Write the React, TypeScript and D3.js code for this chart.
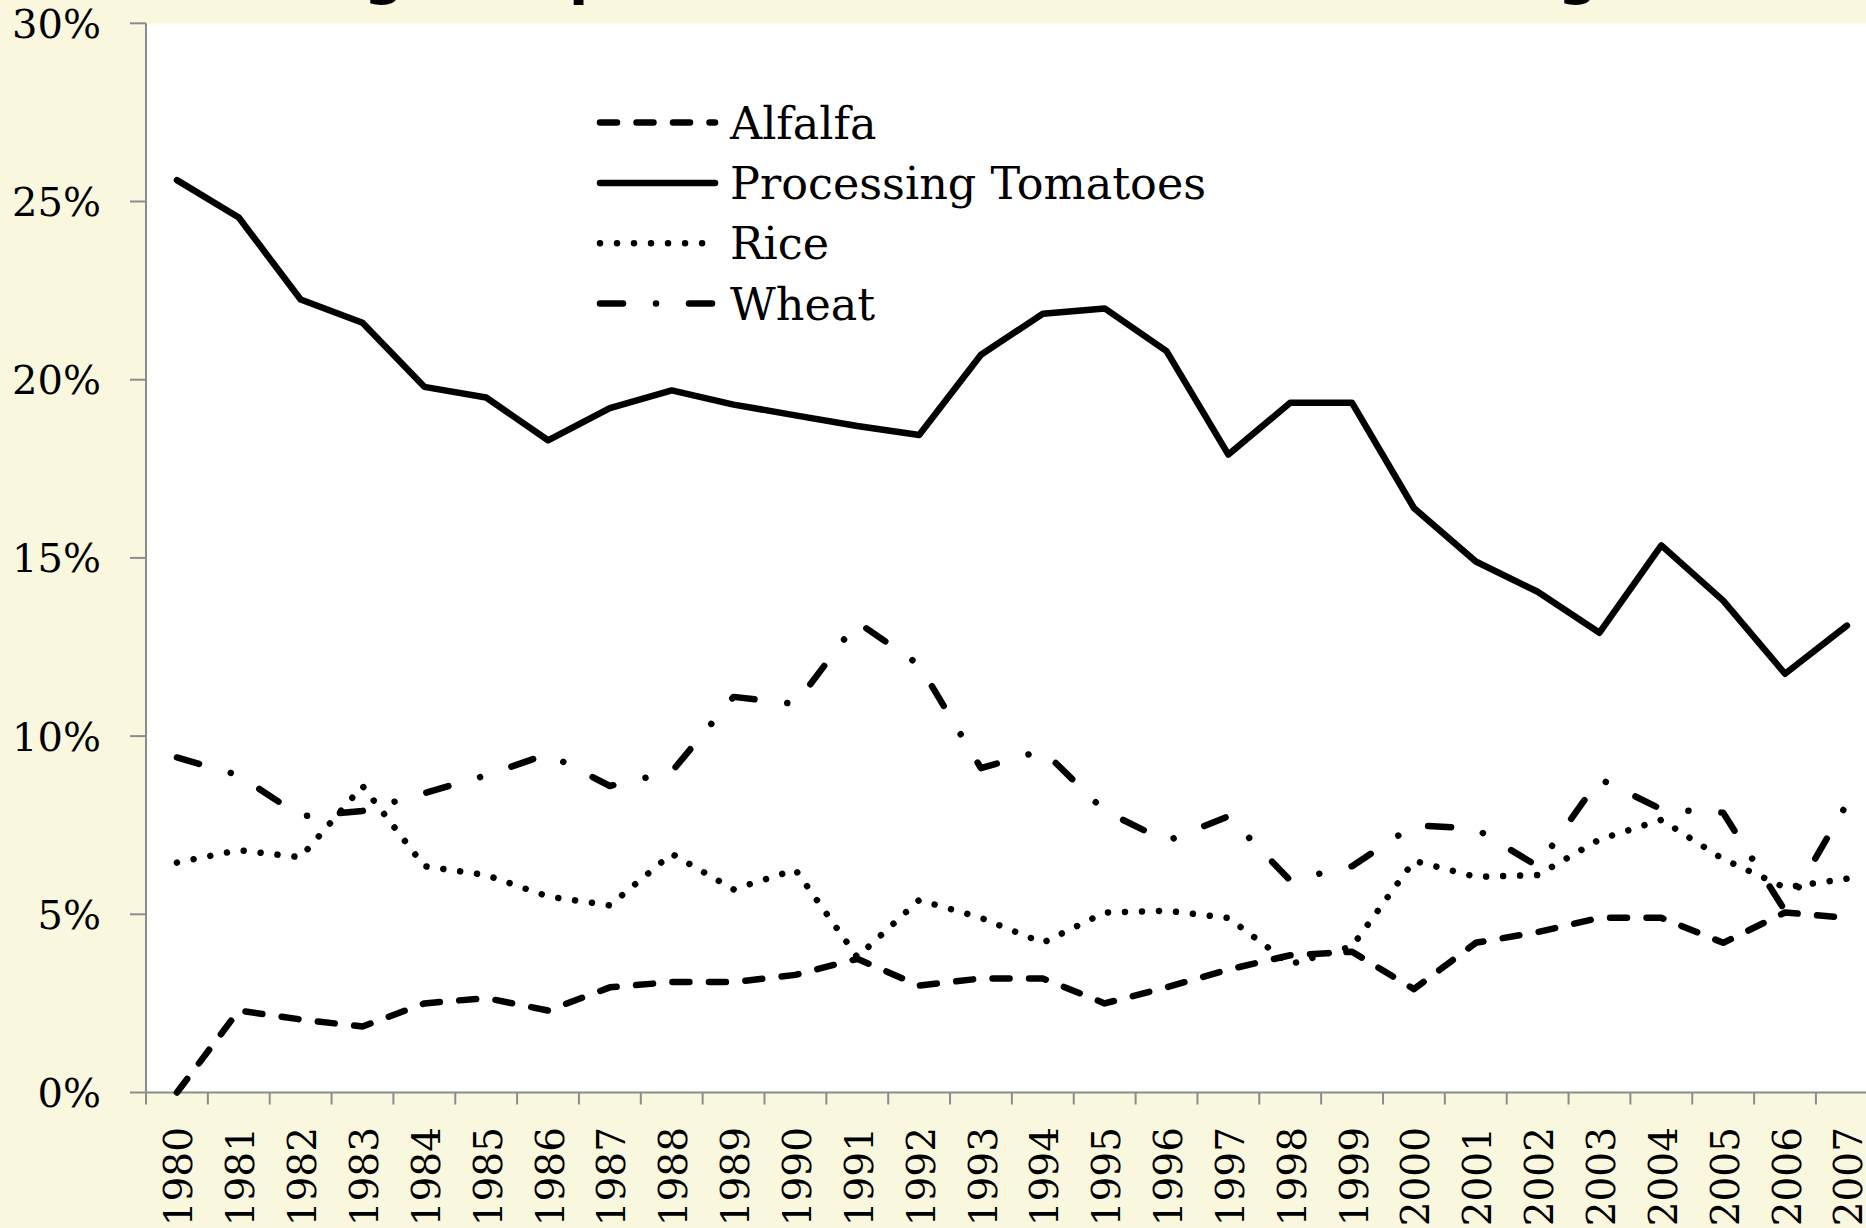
import React, { useEffect } from 'react';
import * as d3 from 'd3';

const years: number[] = [
  1980, 1981, 1982, 1983, 1984, 1985, 1986, 1987, 1988, 1989,
  1990, 1991, 1992, 1993, 1994, 1995, 1996, 1997, 1998, 1999,
  2000, 2001, 2002, 2003, 2004, 2005, 2006, 2007,
];

// values in percent
const alfalfa: number[] = [
  0.0, 2.3, 2.05, 1.85, 2.5, 2.65, 2.3, 2.95, 3.1, 3.1,
  3.3, 3.75, 3.0, 3.2, 3.2, 2.5, 2.95, 3.45, 3.85, 3.95,
  2.9, 4.2, 4.5, 4.9, 4.9, 4.2, 5.05, 4.9,
];
const tomatoes: number[] = [
  25.6, 24.55, 22.25, 21.6, 19.8, 19.5, 18.3, 19.2, 19.7, 19.3,
  19.0, 18.7, 18.45, 20.7, 21.85, 22.0, 20.8, 17.9, 19.35, 19.35,
  16.4, 14.9, 14.05, 12.9, 15.35, 13.8, 11.75, 13.1,
];
const rice: number[] = [
  6.45, 6.8, 6.6, 8.6, 6.35, 6.1, 5.5, 5.25, 6.7, 5.7,
  6.25, 3.8, 5.4, 4.9, 4.2, 5.05, 5.1, 4.9, 3.6, 4.1,
  6.5, 6.05, 6.1, 7.1, 7.65, 6.55, 5.75, 6.0,
];
const wheat: number[] = [
  9.4, 8.9, 7.75, 7.9, 8.4, 8.9, 9.5, 8.6, 9.0, 11.1,
  10.9, 13.2, 12.0, 9.1, 9.6, 7.9, 7.05, 7.75, 5.95, 6.35,
  7.5, 7.4, 6.35, 8.8, 7.95, 7.85, 5.1, 8.1,
];
const yTicks: number[] = [0, 5, 10, 15, 20, 25, 30];
const seriesNames: string[] = ['Alfalfa', 'Processing Tomatoes', 'Rice', 'Wheat'];
const seriesData: number[][] = [alfalfa, tomatoes, rice, wheat];
const dashes: string[] = ['17 19.5', 'none', '0.01 17', '23 33 0.01 33'];

const W = 1866;
const H = 1228;
const left = 146;
const top = 23.3;
const bottom = 1092.5;
const band = 61.85;
const BG = '#F9F7DE';
const AXIS = '#8c8c8c';
const SERIF = '"DejaVu Serif", "Liberation Serif", serif';

export default function App() {
  useEffect(() => {
    document.body.style.margin = '0';
  }, []);

  const x = d3
    .scaleBand<string>()
    .domain(years.map(String))
    .range([left, left + band * years.length])
    .padding(0);
  const y = d3.scaleLinear().domain([0, 30]).range([bottom, top]);
  const cx = (i: number) => (x(String(years[i])) as number) + x.bandwidth() / 2;

  const line = d3
    .line<number>()
    .x((_d, i) => cx(i))
    .y((d) => y(d));

  const boundaries = d3.range(years.length + 1).map((k) => left + k * x.bandwidth());

  const legendX1 = 600;
  const legendX2 = 715;
  const legendY0 = 122.6;
  const legendStep = 60.3;

  return (
    <svg
      width={W}
      height={H}
      viewBox={`0 0 ${W} ${H}`}
      style={{ position: 'absolute', left: 0, top: 0, display: 'block' }}
    >
      <rect x={0} y={0} width={W} height={H} fill={BG} />
      {/* visible bottoms of the cropped title glyphs */}
      <g fontFamily='"DejaVu Sans", sans-serif' fontWeight="bold" fontSize={56} fill="#000">
        <text x={384} y={-7} textAnchor="middle">g</text>
        <text x={569} y={-7}>p</text>
        <text x={1578} y={-7} textAnchor="middle">g</text>
      </g>
      <rect x={left} y={top} width={band * years.length} height={bottom - top} fill="#fff" />

      {/* y axis */}
      <line x1={left} x2={left} y1={top} y2={bottom} stroke={AXIS} strokeWidth={2} />
      {yTicks.map((t) => (
        <g key={t}>
          <line x1={130} x2={left} y1={y(t)} y2={y(t)} stroke={AXIS} strokeWidth={2} />
          <text
            x={101}
            y={y(t) + 14.5}
            textAnchor="end"
            fontFamily={SERIF}
            fontSize={40}
            fill="#000"
          >
            {`${t}%`}
          </text>
        </g>
      ))}

      {/* x axis */}
      <line x1={left} x2={left + band * years.length} y1={bottom} y2={bottom} stroke={AXIS} strokeWidth={2} />
      {boundaries.map((bx, k) => (
        <line key={k} x1={bx} x2={bx} y1={bottom} y2={bottom + 12} stroke={AXIS} strokeWidth={2} />
      ))}
      {years.map((yr, i) => (
        <text
          key={yr}
          transform={`translate(${cx(i) + 1.5},${1127}) rotate(-90)`}
          textAnchor="end"
          dy="0.36em"
          fontFamily={SERIF}
          fontSize={39}
          fill="#000"
        >
          {String(yr)}
        </text>
      ))}

      {/* series */}
      {seriesData.map((data, si) => (
        <path
          key={seriesNames[si]}
          d={line(data) || ''}
          fill="none"
          stroke="#000"
          strokeWidth={6.5}
          strokeLinecap="round"
          strokeLinejoin="round"
          strokeDasharray={dashes[si]}
        />
      ))}

      {/* legend */}
      {seriesNames.map((name, si) => {
        const ly = legendY0 + si * legendStep;
        return (
          <g key={name}>
            <line
              x1={legendX1}
              x2={legendX2}
              y1={ly}
              y2={ly}
              stroke="#000"
              strokeWidth={6.5}
              strokeLinecap="round"
              strokeDasharray={dashes[si]}
            />
            <text x={730} y={ly + 16} fontFamily={SERIF} fontSize={44.5} fill="#000">
              {name}
            </text>
          </g>
        );
      })}
    </svg>
  );
}
